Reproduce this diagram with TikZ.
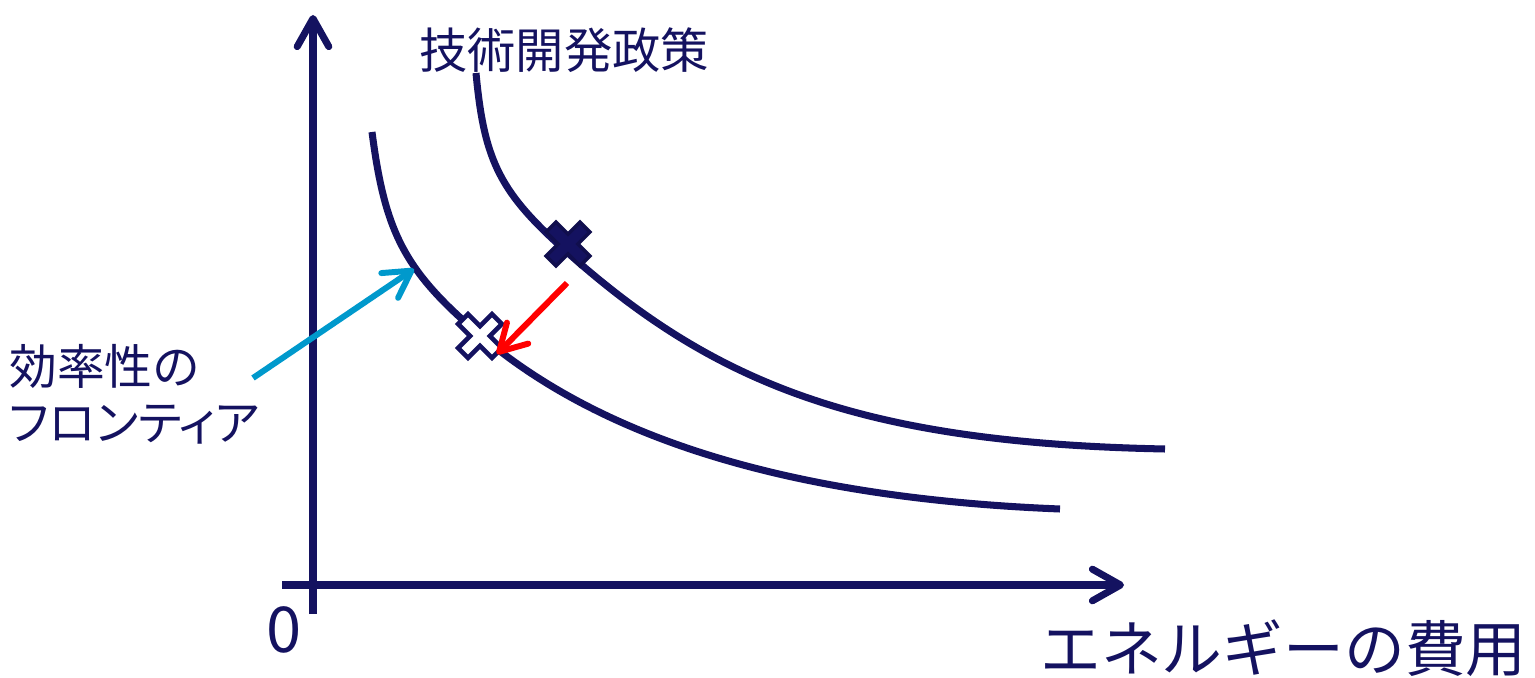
\documentclass[tikz,border=0pt]{standalone}
\usepackage{fontspec}
\setmainfont{Noto Sans CJK JP}
\usetikzlibrary{arrows.meta}
\definecolor{navy}{RGB}{20,18,96}
\definecolor{cyanarr}{RGB}{0,153,204}
\definecolor{redarr}{RGB}{255,0,0}
\begin{document}
\begin{tikzpicture}[x=0.02cm,y=-0.02cm,
  axis/.style={navy,line width=4pt,-{Straight Barb[length=16pt,width=18pt,line cap=round,line join=round]}},
  curveline/.style={navy,line width=4pt},
  pointer/.style={line width=3.4pt,-{Straight Barb[length=15pt,width=17pt,line cap=round,line join=round]}},
  lbl/.style={navy,inner sep=0pt},
  xmark/.pic={
    \path[rotate=45,pic actions]
      (7,24) -- (7,7) -- (24,7) -- (24,-7) -- (7,-7) -- (7,-24) -- (-7,-24) -- (-7,-7)
      -- (-24,-7) -- (-24,7) -- (-7,7) -- (-7,24) -- cycle;
  },
]
\useasboundingbox (0,0) rectangle (1535,678);

% axes
\coordinate (yb) at (313,614);
\coordinate (yt) at (313,15);
\coordinate (xl) at (282,585);
\coordinate (xr) at (1124,585);
\draw[axis] (yb) -- (yt);
\draw[axis] (xl) -- (xr);

% frontier curves
\draw[curveline] (372,132) .. controls (385,232) and (403.8,270.3) .. (480,335)
  .. controls (586.7,425.6) and (760,497) .. (1060,509);
\draw[curveline] (476,73) .. controls (484.3,163) and (500.8,193.2) .. (568,253)
  .. controls (717.4,386) and (865,443) .. (1165,449);

% points
\coordinate (xa) at (568,244);
\coordinate (xb) at (480,336);
\pic[fill=navy,draw=navy!80!black,line width=2pt] at (xa) {xmark};
\pic[fill=white,draw=navy,line width=2.6pt] at (xb) {xmark};

% arrows
\coordinate (ra) at (567,283);
\coordinate (rb) at (497,354);
\draw[pointer,redarr] (ra) -- (rb);
\coordinate (ca) at (253,378);
\coordinate (cb) at (414,269);
\draw[pointer,cyanarr] (ca) -- (cb);

% labels
\node[lbl,anchor=west,font=\fontsize{27.5}{33}\selectfont] (tech) at (419,50) {技術開発政策};
\node[lbl,anchor=west,font=\fontsize{27.2}{33}\selectfont] (eff1) at (9,366) {効率性の};
\node[lbl,anchor=west,font=\fontsize{27.2}{33}\selectfont\addfontfeatures{RawFeature=+palt}] (eff2) at (9,425) {フロンティア};
\node[lbl,anchor=west,font=\fontsize{34.6}{40}\selectfont] (cost) at (1040,648) {エネルギーの費用};
\node[lbl,font=\fontsize{36}{40}\selectfont] (zero) at (284,630) {0};
\end{tikzpicture}
\end{document}
